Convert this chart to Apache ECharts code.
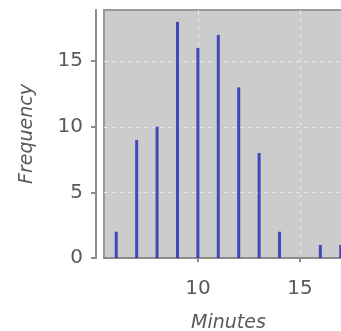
<!DOCTYPE html>
<html><head><meta charset="utf-8">
<script src="https://cdn.jsdelivr.net/npm/echarts@6/dist/echarts.min.js"></script>
<style>html,body{margin:0;padding:0;background:#fff}#c{width:341px;height:331px}</style>
</head><body><div id="c"></div>
<script>
var minutes = [6, 7, 8, 9, 10, 11, 12, 13, 14, 16, 17];
var frequency = [2, 9, 10, 18, 16, 17, 13, 8, 2, 1, 1];
var xTicks = [10, 15];
var yTicks = [0, 5, 10, 15];

var chart = echarts.init(document.getElementById('c'), null, {renderer: 'canvas'});
var font = 'DejaVu Sans';
var textColor = '#5a5a5a';
chart.setOption({
  animation: false,
  backgroundColor: '#ffffff',
  grid: {left: 104, top: 10, height: 248, width: 249, show: true, outerBoundsMode: 'none', containLabel: false,
         backgroundColor: '#cccccc', borderColor: '#999999', borderWidth: 2},
  xAxis: {
    type: 'value', min: 5.4, max: 17.6, offset: 8,
    name: 'Minutes', nameLocation: 'middle', nameGap: 48,
    nameTextStyle: {fontFamily: font, fontSize: 19, fontStyle: 'italic', color: textColor},
    axisLine: {show: true, lineStyle: {color: '#8c8c8c', width: 2}},
    axisTick: {show: true, length: 4, customValues: xTicks, lineStyle: {color: '#8c8c8c', width: 2}},
    axisLabel: {customValues: xTicks, margin: 13, fontFamily: font, fontSize: 20, color: textColor},
    splitLine: {show: true, lineStyle: {color: '#e8e8e8', type: [4, 4], width: 1}}
  },
  yAxis: {
    type: 'value', min: 0, max: 18.9, offset: 8,
    name: 'Frequency', nameLocation: 'middle', nameGap: 59, nameRotate: 90,
    nameTextStyle: {fontFamily: font, fontSize: 19, fontStyle: 'italic', color: textColor},
    axisLine: {show: true, lineStyle: {color: '#8c8c8c', width: 2}},
    axisTick: {show: true, length: 5, customValues: yTicks, lineStyle: {color: '#8c8c8c', width: 2}},
    axisLabel: {customValues: yTicks, margin: 13, fontFamily: font, fontSize: 20, color: textColor},
    splitLine: {show: true, lineStyle: {color: '#e8e8e8', type: [4, 4], width: 1}}
  },
  series: [{
    type: 'bar', barWidth: 3,
    data: minutes.map(function (m, i) { return [m, frequency[i]]; }),
    itemStyle: {color: 'rgba(40,48,180,0.85)'}
  }]
});
</script></body></html>
